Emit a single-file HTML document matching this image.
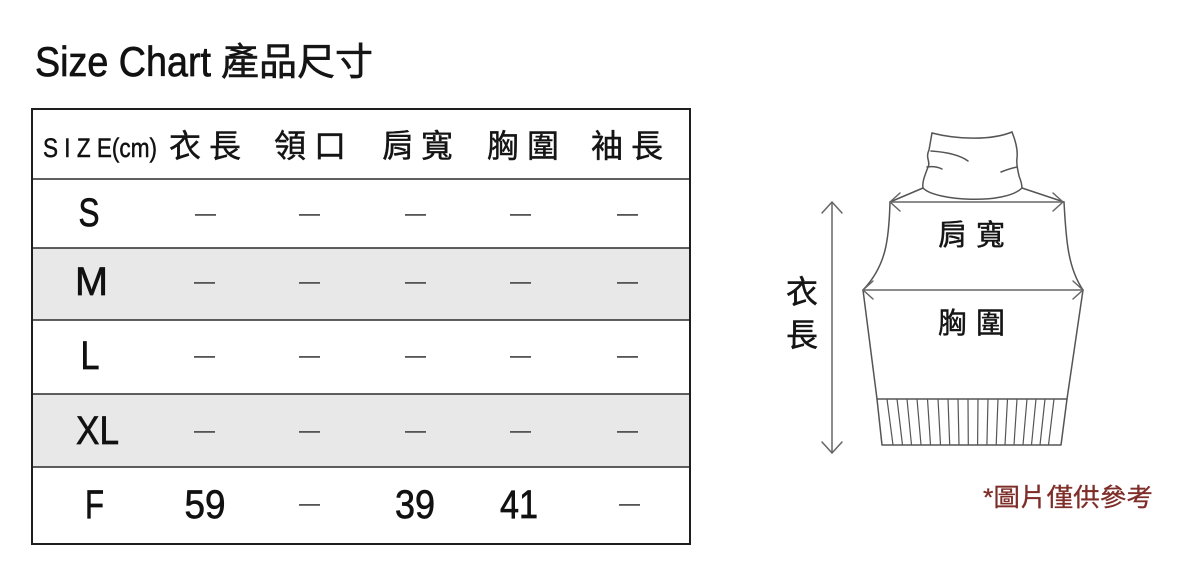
<!DOCTYPE html>
<html>
<head>
<meta charset="utf-8">
<style>
  html, body { margin:0; padding:0; background:#fff; }
  body { width:1200px; height:578px; overflow:hidden; }
  svg { display:block; }
  .lat { font-family: "Liberation Sans", sans-serif; fill:#111; stroke:#111; stroke-width:0.7; }
  .cjk { font-family: "Liberation Sans", "Noto Sans CJK TC", "Noto Sans CJK SC", sans-serif; fill:#151515; stroke:#151515; stroke-width:0.45; }
</style>
</head>
<body>
<svg width="1200" height="578" viewBox="0 0 1200 578" xmlns="http://www.w3.org/2000/svg">
  <rect x="0" y="0" width="1200" height="578" fill="#fff"/>

  <!-- Title -->
  <text class="lat" x="35" y="76" font-size="42" textLength="176" lengthAdjust="spacingAndGlyphs">Size Chart</text>
  <text class="cjk" x="221" y="75" font-size="38" style="stroke-width:0.6">產品尺寸</text>

  <!-- Table backgrounds -->
  <rect x="32" y="248" width="658" height="72" fill="#e8e8e8"/>
  <rect x="32" y="394" width="658" height="73" fill="#e8e8e8"/>

  <!-- Table lines -->
  <g stroke="#2a2a2a" stroke-width="1.6">
    <line x1="32" y1="179" x2="690" y2="179"/>
    <line x1="32" y1="248" x2="690" y2="248"/>
    <line x1="32" y1="320" x2="690" y2="320"/>
    <line x1="32" y1="394" x2="690" y2="394"/>
    <line x1="32" y1="467" x2="690" y2="467"/>
  </g>
  <rect x="32" y="109" width="658" height="435" fill="none" stroke="#1e1e1e" stroke-width="2"/>

  <!-- Header -->
  <text class="lat" x="43" y="157" font-size="27" textLength="114" lengthAdjust="spacingAndGlyphs" style="stroke-width:0.5">S I Z E(cm)</text>
  <g class="cjk" font-size="32">
    <text x="169" y="157">衣</text><text x="209" y="157">長</text>
    <text x="274" y="157">領</text><text x="314" y="157">口</text>
    <text x="382" y="157">肩</text><text x="421" y="157">寬</text>
    <text x="487" y="157">胸</text><text x="527" y="157">圍</text>
    <text x="591" y="157">袖</text><text x="631" y="157">長</text>
  </g>

  <!-- Size labels -->
  <g class="lat" font-size="40" text-anchor="middle">
    <text x="89" y="226" textLength="21" lengthAdjust="spacingAndGlyphs">S</text>
    <text x="91.5" y="295" textLength="33" lengthAdjust="spacingAndGlyphs">M</text>
    <text x="90" y="369" textLength="19" lengthAdjust="spacingAndGlyphs">L</text>
    <text x="97.5" y="444" textLength="43" lengthAdjust="spacingAndGlyphs">XL</text>
    <text x="94.5" y="518" textLength="19" lengthAdjust="spacingAndGlyphs">F</text>
    <text x="205" y="518" textLength="41" lengthAdjust="spacingAndGlyphs">59</text>
    <text x="415" y="518" textLength="40" lengthAdjust="spacingAndGlyphs">39</text>
    <text x="519" y="518" textLength="38" lengthAdjust="spacingAndGlyphs">41</text>
  </g>

  <!-- Dashes -->
  <g fill="#555">
    <rect x="195" y="214" width="21" height="1.8"/>
    <rect x="299" y="214" width="21" height="1.8"/>
    <rect x="405" y="214" width="21" height="1.8"/>
    <rect x="510" y="214" width="21" height="1.8"/>
    <rect x="617" y="214" width="21" height="1.8"/>
    <rect x="194" y="282" width="21" height="1.8"/>
    <rect x="299" y="282" width="21" height="1.8"/>
    <rect x="405" y="282" width="21" height="1.8"/>
    <rect x="510" y="282" width="21" height="1.8"/>
    <rect x="617" y="282" width="21" height="1.8"/>
    <rect x="194" y="356" width="21" height="1.8"/>
    <rect x="299" y="356" width="21" height="1.8"/>
    <rect x="405" y="356" width="21" height="1.8"/>
    <rect x="510" y="356" width="21" height="1.8"/>
    <rect x="617" y="356" width="21" height="1.8"/>
    <rect x="194" y="431" width="21" height="1.8"/>
    <rect x="299" y="431" width="21" height="1.8"/>
    <rect x="405" y="431" width="21" height="1.8"/>
    <rect x="510" y="431" width="21" height="1.8"/>
    <rect x="617" y="431" width="21" height="1.8"/>
    <rect x="299" y="504" width="21" height="1.8"/>
    <rect x="619" y="504" width="21" height="1.8"/>
  </g>

  <!-- Garment diagram -->
  <g fill="none" stroke="#555" stroke-width="1.5" stroke-linejoin="round" stroke-linecap="round">
    <path d="M932,133 C955,139 990,141 1012,132"/>
    <path d="M932,133 L929,150 C925,158 931,162 928,167 C925,175 922,182 923,188"/>
    <path d="M1012,132 C1016,142 1018,150 1017,158 C1016,165 1018,170 1019,176 C1021,181 1022,185 1022,188"/>
    <path d="M923,188 C935,201 1005,205 1022,188"/>
    <path d="M931,151 C945,152 960,155 968,161"/>
    <path d="M927,167 C933,166 938,167 942,169"/>
    <path d="M1001,172 C1006,170 1012,168 1017,167"/>
    <path d="M923,188 L890,202"/>
    <path d="M1022,188 L1064,202"/>
    <path d="M890,202 C889,240 886,266 863,290"/>
    <path d="M1064,202 C1066,240 1068,268 1083,290"/>
    <path d="M863,290 L877,399 L882,445 L1061,445 L1067,399 L1083,290"/>
    <path d="M877,399 L1067,399"/>
  </g>
  <g stroke="#555" stroke-width="1.2">
    <line x1="887" y1="399" x2="893" y2="445"/>
    <line x1="897" y1="399" x2="902.5" y2="445"/>
    <line x1="907" y1="399" x2="911.5" y2="445"/>
    <line x1="917" y1="399" x2="921" y2="445"/>
    <line x1="927.5" y1="399" x2="930.5" y2="445"/>
    <line x1="938" y1="399" x2="940.5" y2="445"/>
    <line x1="948" y1="399" x2="949.7" y2="445"/>
    <line x1="958" y1="399" x2="959" y2="445"/>
    <line x1="968" y1="399" x2="968.3" y2="445"/>
    <line x1="978" y1="399" x2="977.6" y2="445"/>
    <line x1="988" y1="399" x2="986.9" y2="445"/>
    <line x1="998" y1="399" x2="996.2" y2="445"/>
    <line x1="1007.5" y1="399" x2="1005" y2="445"/>
    <line x1="1017" y1="399" x2="1014" y2="445"/>
    <line x1="1027" y1="399" x2="1023" y2="445"/>
    <line x1="1036" y1="399" x2="1031.5" y2="445"/>
    <line x1="1045" y1="399" x2="1040" y2="445"/>
    <line x1="1054" y1="399" x2="1048.5" y2="445"/>
  </g>

  <!-- arrows -->
  <g fill="none" stroke="#666" stroke-width="1.5" stroke-linecap="round" stroke-linejoin="round">
    <path d="M890,202 L1063,202"/>
    <path d="M900,193 L890,202 L900,211"/>
    <path d="M1053,193 L1063,202 L1053,211"/>
    <path d="M863,290 L1083,290"/>
    <path d="M873,281 L863,290 L873,299"/>
    <path d="M1073,281 L1083,290 L1073,299"/>
    <path d="M832,202 L832,453"/>
    <path d="M822,213 L832,202 L842,213"/>
    <path d="M822,442 L832,453 L842,442"/>
  </g>

  <!-- diagram labels -->
  <g class="cjk">
    <text x="786" y="303" font-size="32">衣</text>
    <text x="786" y="346" font-size="32">長</text>
    <text x="938" y="245" font-size="29">肩</text>
    <text x="976" y="245" font-size="29">寬</text>
    <text x="938" y="333" font-size="29">胸</text>
    <text x="976" y="333" font-size="29">圍</text>
  </g>

  <!-- note -->
  <text x="983" y="506" font-size="25" font-family="Liberation Sans, Noto Sans CJK TC, sans-serif" fill="#7d2e28" stroke="#7d2e28" stroke-width="0.3" textLength="170" lengthAdjust="spacingAndGlyphs">*圖片僅供參考</text>
</svg>
</body>
</html>
